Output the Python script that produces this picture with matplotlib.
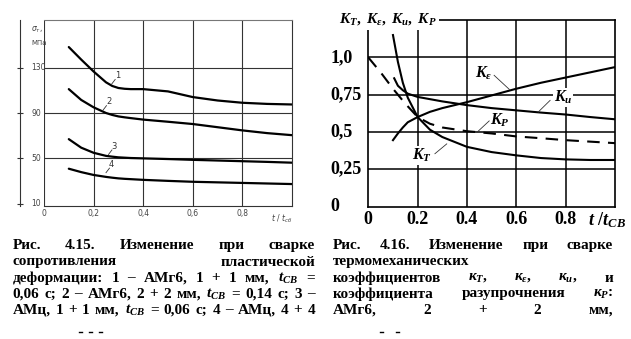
import matplotlib
matplotlib.use('Agg')
import matplotlib.pyplot as plt

plt.rcParams['mathtext.fontset'] = 'custom'
plt.rcParams['mathtext.rm'] = 'Liberation Serif:bold'
plt.rcParams['mathtext.it'] = 'Liberation Serif:italic:bold'
plt.rcParams['mathtext.bf'] = 'Liberation Serif:bold'

# ---------------- data: left chart (Fig. 4.15) ----------------
left_x = [0.1, 0.15, 0.2, 0.25, 0.275, 0.3, 0.325, 0.35, 0.4, 0.5, 0.6, 0.7, 0.8, 0.9, 1.0]
curve1 = [148, 137, 126.5, 117, 113.8, 112, 111.3, 111, 111, 109, 104, 101, 99, 98, 97.5]
curve2 = [111, 101.5, 95, 90, 88.3, 87, 86.2, 85.5, 84.2, 82.3, 80.3, 77.5, 74.7, 72.3, 70.5]
curve3 = [67, 59.5, 55, 52.3, 51.6, 51, 50.7, 50.4, 50.1, 49.5, 48.8, 48.2, 47.6, 47, 46.3]
curve4 = [41, 38, 35.5, 33.8, 33.1, 32.5, 32.1, 31.8, 31.2, 30.3, 29.5, 29, 28.5, 28, 27.5]
left_yticks = [130, 90, 50, 10]
left_xticks = [0, 0.2, 0.4, 0.6, 0.8]
left_xticklabels = ['0', '0,2', '0,4', '0,6', '0,8']
curve_names = ['1', '2', '3', '4']
curve_label_pos = [(0.285, 119), (0.25, 96), (0.272, 57), (0.262, 41)]

# ---------------- data: right chart (Fig. 4.16) ----------------
kt_x = [0.1, 0.12, 0.14, 0.16, 0.2, 0.25, 0.3, 0.4, 0.5, 0.6, 0.7, 0.8, 0.9, 1.0]
kt_y = [1.15, 0.97, 0.83, 0.73, 0.60, 0.515, 0.466, 0.40, 0.365, 0.343, 0.325, 0.316, 0.312, 0.312]
ku_x = [0.105, 0.12, 0.14, 0.16, 0.2, 0.25, 0.3, 0.4, 0.5, 0.6, 0.7, 0.8, 0.9, 1.0]
ku_y = [0.86, 0.81, 0.78, 0.757, 0.735, 0.72, 0.705, 0.68, 0.66, 0.645, 0.63, 0.617, 0.60, 0.585]
ke_x = [0.1, 0.12, 0.14, 0.16, 0.2, 0.25, 0.3, 0.4, 0.5, 0.6, 0.7, 0.8, 0.9, 1.0]
ke_y = [0.445, 0.49, 0.53, 0.565, 0.60, 0.635, 0.66, 0.70, 0.745, 0.79, 0.83, 0.865, 0.90, 0.935]
kp_x = [0.0, 0.05, 0.1, 0.15, 0.2, 0.25, 0.3, 0.4, 0.5, 0.6, 0.7, 0.8, 0.9, 1.0]
kp_y = [1.0, 0.90, 0.79, 0.69, 0.60, 0.555, 0.53, 0.505, 0.49, 0.47, 0.458, 0.445, 0.435, 0.425]
right_yticks = [1.0, 0.75, 0.5, 0.25, 0.0]
right_yticklabels = ['1,0', '0,75', '0,5', '0,25', '0']
right_xticks = [0, 0.2, 0.4, 0.6, 0.8]
right_xticklabels = ['0', '0.2', '0.4', '0.6', '0.8']

W, H = 631, 339
fig = plt.figure(figsize=(W / 100, H / 100), dpi=100)


def fr(x0, y0, x1, y1):
    return [x0 / W, 1 - y1 / H, (x1 - x0) / W, (y1 - y0) / H]


axL = fig.add_axes(fr(44, 20, 292, 206))
axR = fig.add_axes(fr(368.3, 20, 615, 206.5))
ov = fig.add_axes([0, 0, 1, 1])
ov.set_xlim(0, W)
ov.set_ylim(H, 0)
ov.axis('off')

# ---------------- left chart ----------------
gcol = '#333333'
axL.set_xlim(0, 1.0)
axL.set_ylim(8.2, 171.8)
for s in axL.spines.values():
    s.set_color(gcol)
    s.set_linewidth(0.8)
axL.spines['top'].set_color('#777777')
axL.spines['left'].set_position(('outward', 17))
axL.axvline(0, color=gcol, lw=0.8)
for v in [130, 90, 50]:
    axL.axhline(v, color=gcol, lw=0.8)
for xv in [0.2, 0.4, 0.6, 0.8]:
    axL.axvline(xv, color=gcol, lw=0.8)
for cy in [curve1, curve2, curve3, curve4]:
    axL.plot(left_x, cy, color='black', lw=1.6, solid_capstyle='round', solid_joinstyle='round')
axL.set_yticks(left_yticks)
axL.set_yticklabels([])
axL.tick_params(axis='y', direction='inout', length=4, width=0.8, color=gcol)
axL.set_xticks(left_xticks)
axL.set_xticklabels(left_xticklabels, fontsize=5.5, color='#444444', family='DejaVu Sans')
axL.tick_params(axis='x', length=0, pad=2)
for v in left_yticks:
    axL.text(-0.052, v, str(v), transform=axL.get_yaxis_transform(), ha='left', va='center',
             fontsize=5.5, color='#444444', family='DejaVu Sans')
for name, (lx, ly) in zip(curve_names, curve_label_pos):
    axL.text(lx, ly, name, fontsize=6, color='#333333', ha='left', va='bottom')
    axL.plot([lx - 0.012, lx + 0.002], [ly - 3.5, ly + 0.5], color='#333333', lw=0.6)
axL.text(-0.052, 163, r'$\sigma_т$,', transform=axL.get_yaxis_transform(), fontsize=5.5,
         color='#444444', ha='left', va='center', family='DejaVu Sans',
         math_fontfamily='dejavusans')
axL.text(-0.052, 152, 'МПа', transform=axL.get_yaxis_transform(), fontsize=5,
         color='#444444', ha='left', va='center', family='DejaVu Sans')
axL.text(0.915, -0.035, r'$t\ /\ t_{сб}$', transform=axL.transAxes, fontsize=5.5,
         color='#444444', ha='left', va='top', math_fontfamily='dejavusans')

# ---------------- right chart ----------------
axR.set_xlim(0, 1.0)
axR.set_ylim(0, 1.251)
for s in axR.spines.values():
    s.set_color('black')
    s.set_linewidth(1.2)
for v in [0.25, 0.5, 0.75, 1.0]:
    axR.axhline(v, color='black', lw=1.1)
for xv in [0.2, 0.4, 0.6, 0.8]:
    axR.axvline(xv, color='black', lw=1.1)
axR.plot(kt_x, kt_y, color='black', lw=1.5)
axR.plot(ku_x, ku_y, color='black', lw=1.5)
axR.plot(ke_x, ke_y, color='black', lw=1.5)
axR.plot(kp_x, kp_y, color='black', lw=1.5, dashes=(6, 4))
axR.set_yticks([])
axR.set_xticks(right_xticks)
axR.set_xticklabels(right_xticklabels, fontsize=13, family='Liberation Serif', fontweight='bold')
axR.tick_params(axis='x', length=0, pad=3)
for v, lab in zip(right_yticks, right_yticklabels):
    axR.text(-0.155, v, lab, transform=axR.get_yaxis_transform(), ha='left', va='center',
             fontsize=13, family='Liberation Serif', fontweight='bold')
axR.text(0.89, -0.02, r'$t\ /t_{CB}$', transform=axR.transAxes, ha='left', va='top', fontsize=13)

lab_kw = dict(fontsize=11.5, ha='center', va='center',
              bbox=dict(fc='white', ec='none', pad=0.5), zorder=6)
axR.text(0.469, 0.893, r'$K_\varepsilon$', **lab_kw)
axR.plot([0.51, 0.572], [0.880, 0.785], color='#333333', lw=0.6)
axR.text(0.79, 0.73, r'$K_и$', **lab_kw)
axR.plot([0.737, 0.689], [0.712, 0.634], color='#333333', lw=0.6)
axR.text(0.534, 0.578, r'$K_P$', **lab_kw)
axR.plot([0.49, 0.442], [0.574, 0.50], color='#333333', lw=0.6)
axR.text(0.216, 0.343, r'$K_T$', **lab_kw)
axR.plot([0.27, 0.318], [0.354, 0.42], color='#333333', lw=0.6)

ov.text(339, 19.5, r'$K_T,\ K_\varepsilon,\ K_и,\ K_P$', fontsize=11, ha='left', va='center',
        bbox=dict(fc='white', ec='none', pad=1.5), zorder=10)

# ---------------- captions ----------------
renderer = fig.canvas.get_renderer()
cap_fs = 11
cap_kw = dict(fontsize=cap_fs, family='Liberation Serif', fontweight='bold', va='center', ha='left')


def justify(words, x0, x1, y, spread=True):
    texts = [ov.text(0, y, w, **cap_kw) for w in words]
    widths = [t.get_window_extent(renderer).width for t in texts]
    if spread and len(words) > 1:
        gap = (x1 - x0 - sum(widths)) / (len(words) - 1)
    else:
        gap = 4
    x = x0
    for t, w in zip(texts, widths):
        t.set_x(x)
        x += w + gap


tcb = r'$t_{CB}$'
left_lines = [
    ['Рис.', '4.15.', 'Изменение', 'при', 'сварке'],
    ['сопротивления', 'пластической'],
    ['деформации:', '1', '–', 'АМг6,', '1', '+', '1', 'мм,', tcb, '='],
    ['0,06', 'с;', '2', '–', 'АМг6,', '2', '+', '2', 'мм,', tcb, '=', '0,14', 'с;', '3', '–'],
    ['АМц,', '1', '+', '1', 'мм,', tcb, '=', '0,06', 'с;', '4', '–', 'АМц,', '4', '+', '4'],
]
right_lines = [
    ['Рис.', '4.16.', 'Изменение', 'при', 'сварке'],
    ['термомеханических'],
    ['коэффициентов', r'$к_T$,', r'$к_\varepsilon$,', r'$к_и$,', 'и'],
    ['коэффициента', 'разупрочнения', r'$к_P$:'],
    ['АМг6,', '2', '+', '2', 'мм,'],
]
line_y = [245.5, 262, 278, 294, 310]
for words, y in zip(left_lines, line_y):
    justify(words, 12.5, 315, y)
for words, y in zip(right_lines, line_y):
    justify(words, 333, 613, y, spread=len(words) > 1)

for x in [80, 90, 100]:
    ov.plot([x - 1.5, x + 1.5], [332, 332], color='black', lw=1)
for x in [381, 397]:
    ov.plot([x - 1.5, x + 1.5], [332, 332], color='black', lw=1)

fig.savefig('out.png', dpi=100)
